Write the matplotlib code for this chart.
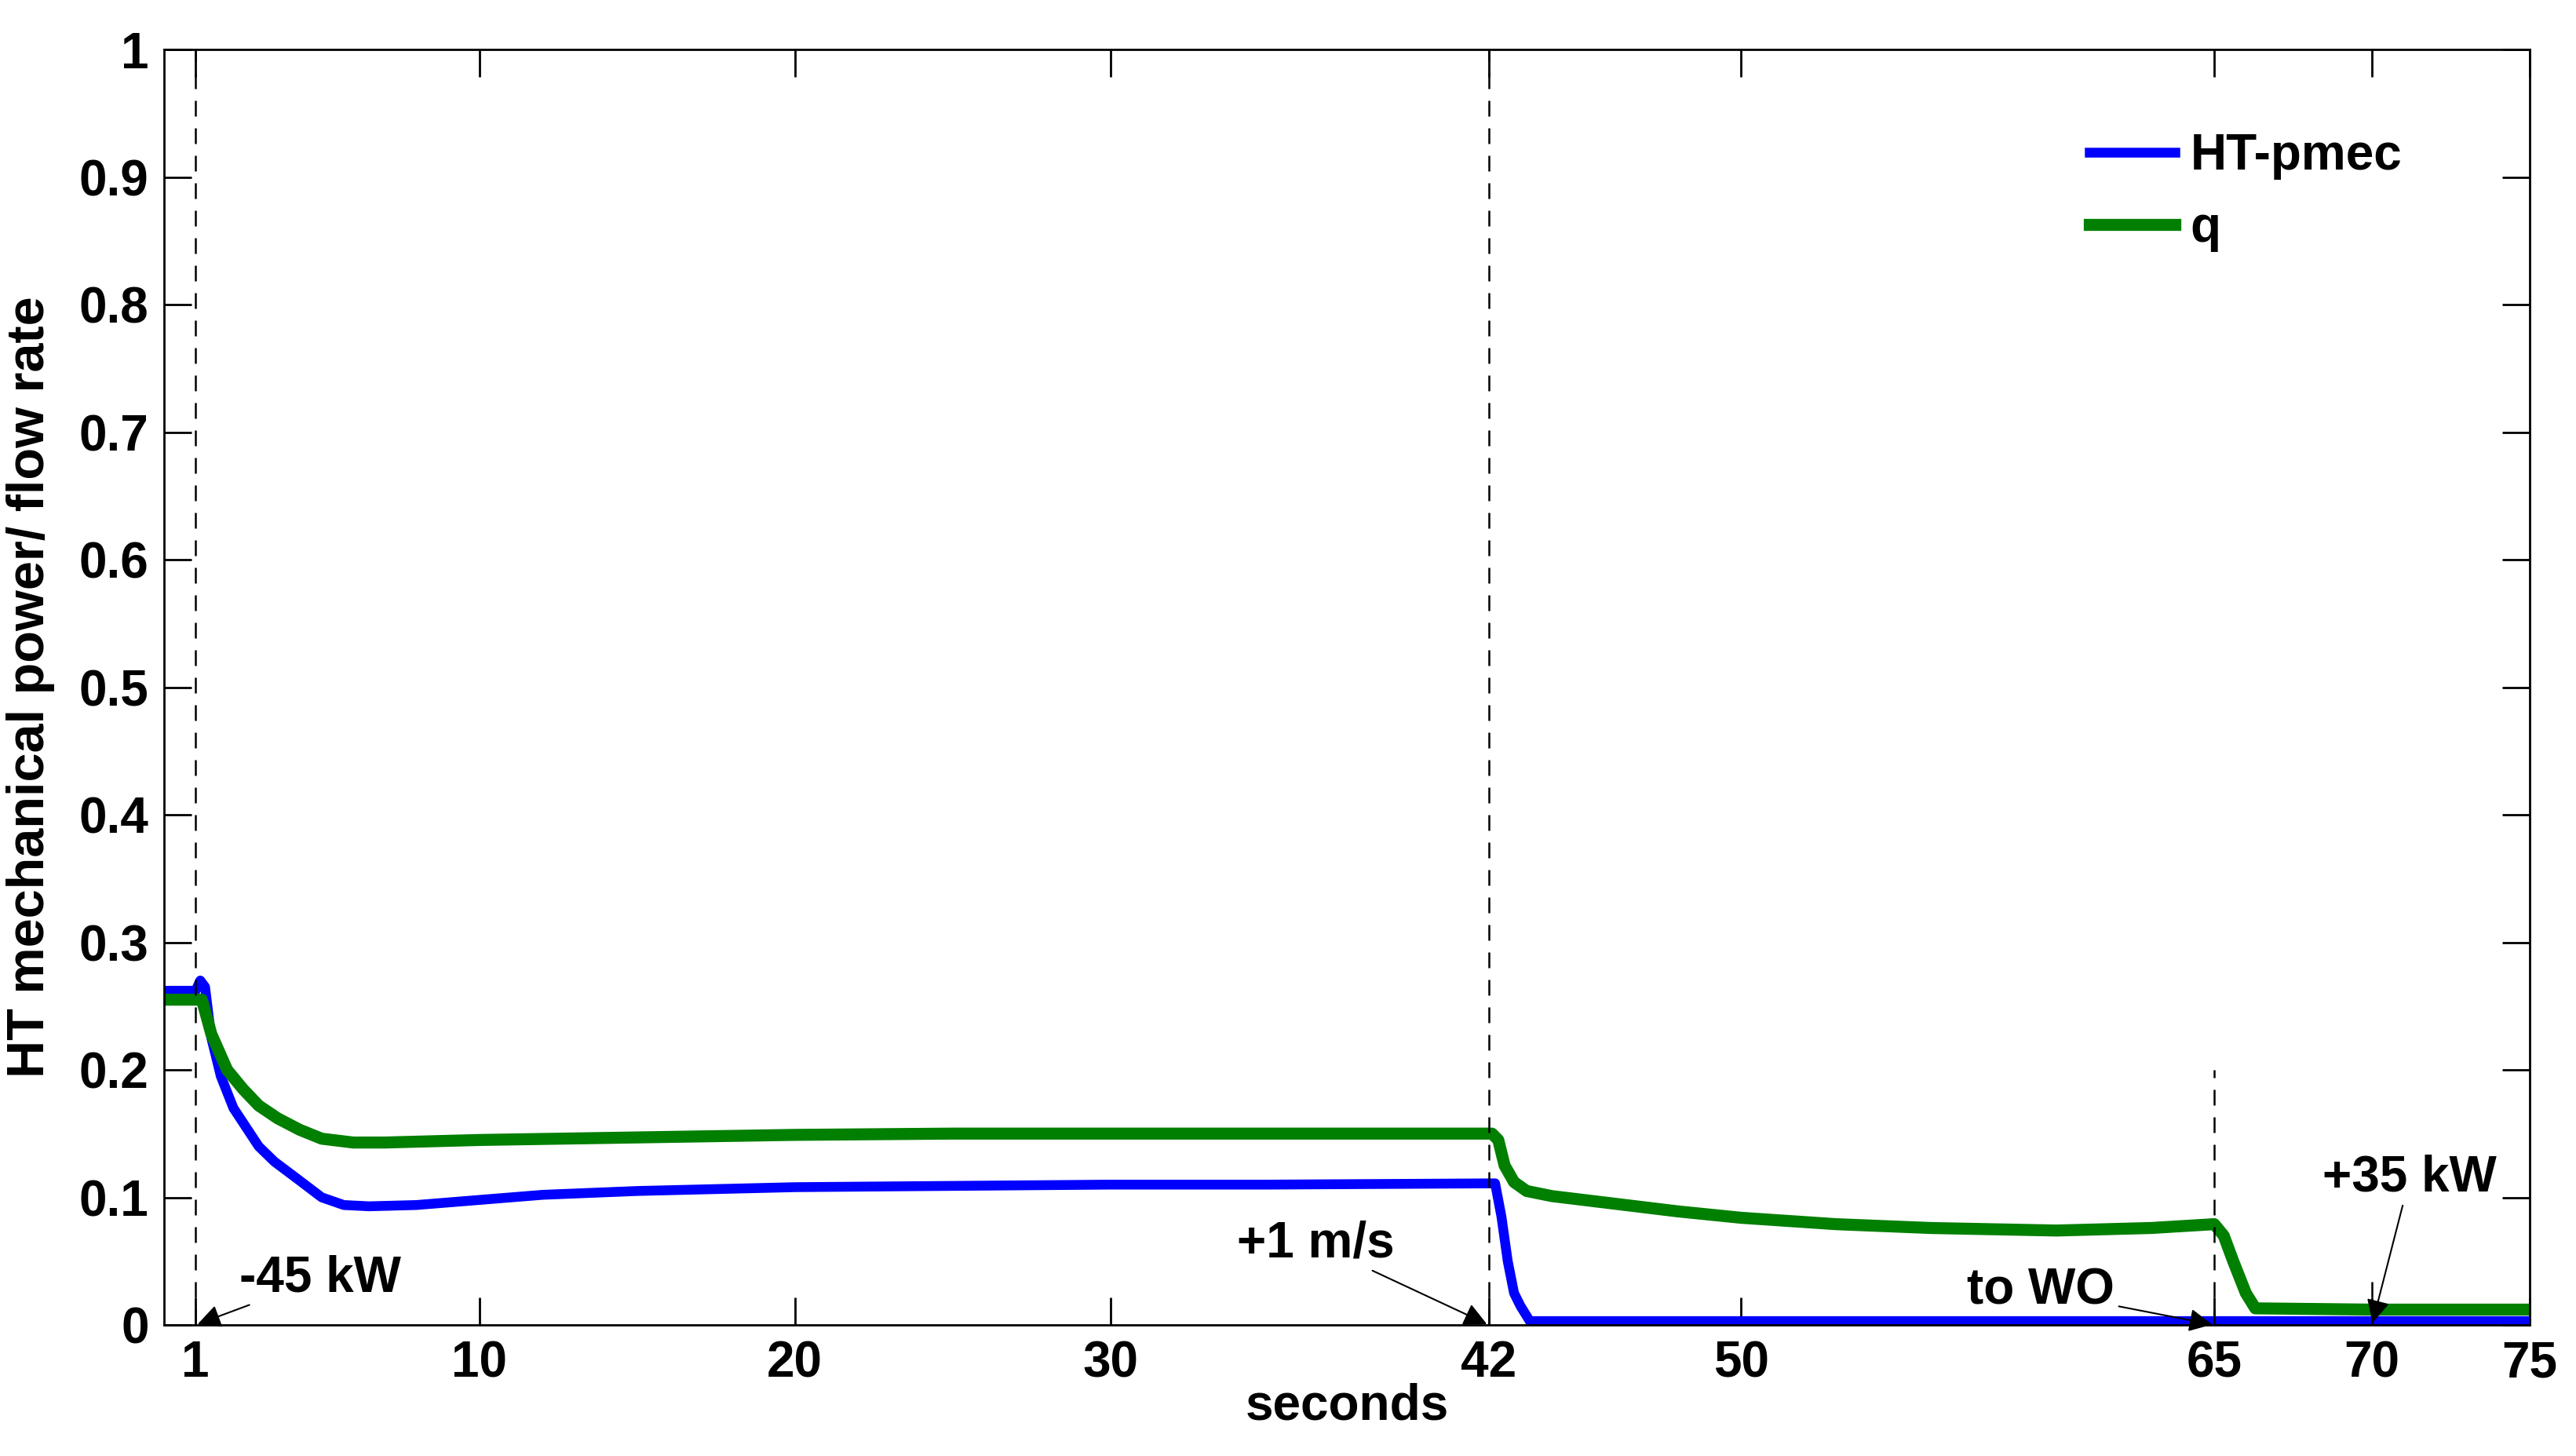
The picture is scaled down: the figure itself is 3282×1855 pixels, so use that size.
import numpy as np
import matplotlib.pyplot as plt

plt.rcParams['font.family'] = ['Liberation Sans', 'DejaVu Sans']
plt.rcParams['font.weight'] = 'bold'

# HT mechanical power
t_p = [0, 1.0, 1.15, 1.3, 1.5, 1.8, 2.2, 2.6, 3.0, 3.5, 4.2, 5.0, 5.7, 6.5, 8, 10, 12, 15, 20, 25, 30, 35, 42.2, 42.4, 42.6, 42.8, 43.0, 43.3, 50, 60, 65, 70, 75]
p = [0.262, 0.262, 0.270, 0.265, 0.225, 0.195, 0.170, 0.155, 0.140, 0.128, 0.115, 0.100, 0.094, 0.093, 0.094, 0.098, 0.102, 0.105, 0.108, 0.109, 0.110, 0.110, 0.111, 0.085, 0.050, 0.025, 0.015, 0.003, 0.003, 0.003, 0.003, 0.003, 0.003]
# flow rate
t_q = [0, 1.2, 1.5, 2.0, 2.5, 3.0, 3.6, 4.3, 5.0, 6.0, 7.0, 10, 15, 20, 25, 30, 35, 42.1, 42.3, 42.5, 42.8, 43.2, 44, 46, 48, 50, 53, 56, 60, 63, 65.0, 65.3, 65.6, 66.0, 66.3, 70, 75]
q = [0.255, 0.255, 0.228, 0.200, 0.185, 0.172, 0.162, 0.153, 0.146, 0.143, 0.143, 0.145, 0.147, 0.149, 0.150, 0.150, 0.150, 0.150, 0.145, 0.125, 0.112, 0.105, 0.101, 0.095, 0.089, 0.084, 0.079, 0.076, 0.074, 0.076, 0.079, 0.070, 0.050, 0.025, 0.013, 0.012, 0.012]

xticks = [1, 10, 20, 30, 42, 50, 65, 70, 75]
yticks = np.round(np.arange(0, 1.01, 0.1), 1)
ylabels = ['0'] + ['%.1f' % v for v in yticks[1:-1]] + ['1']

fig = plt.figure(figsize=(32.82, 18.55), dpi=100)
ax = fig.add_axes([209 / 3282, 1 - 1688 / 1855, (3223 - 209) / 3282, (1688 - 63) / 1855])

ax.plot(t_p, p, color='#0000ff', lw=9, label='HT-pmec')
ax.plot(t_q, q, color='#007f00', lw=11, label='q')

ax.plot([1, 1], [0, 1], 'k--', lw=1.8, dashes=(8, 6))
ax.plot([42, 42], [0, 1], 'k--', lw=1.8, dashes=(8, 6))
ax.plot([65, 65], [0, 0.2], 'k--', lw=1.8, dashes=(8, 6))
ax.plot([70, 70], [0, 0.035], 'k--', lw=1.8, dashes=(8, 6))

fs = 46
arr = dict(arrowstyle='-|>', color='k', lw=1.5, mutation_scale=45)
ax.annotate('-45 kW', xy=(1, 0), xytext=(2.4, 0.018), fontsize=fs, fontweight='heavy', arrowprops=arr, va='bottom')
ax.annotate('+1 m/s', xy=(42, 0), xytext=(36.5, 0.045), fontsize=fs, fontweight='heavy', arrowprops=arr, ha='center', va='bottom')
ax.annotate('to WO', xy=(65, 0), xytext=(59.5, 0.008), fontsize=fs, fontweight='heavy', arrowprops=arr, ha='center', va='bottom')
ax.annotate('+35 kW', xy=(70, 0), xytext=(71.2, 0.097), fontsize=fs, fontweight='heavy', arrowprops=arr, ha='center', va='bottom')

ax.set_xlim(0, 75)
ax.set_ylim(0, 1)
ax.set_xticks(xticks)
ax.set_yticks(yticks)
ax.set_yticklabels(ylabels)
ax.tick_params(direction='in', length=25, width=2, top=True, right=True, labelsize=fs, pad=14)
for s in ax.spines.values():
    s.set_linewidth(2)
ax.set_xlabel('seconds', fontsize=fs, fontweight='bold', labelpad=-4)
ax.set_ylabel('HT mechanical power/ flow rate', fontsize=fs + 2, fontweight='bold', labelpad=22)

leg = ax.legend(loc='upper right', bbox_to_anchor=(0.965, 0.97), frameon=False, fontsize=fs, handlelength=1.7, handletextpad=0.3, labelspacing=0.5)

fig.savefig('out.png', dpi=100)
